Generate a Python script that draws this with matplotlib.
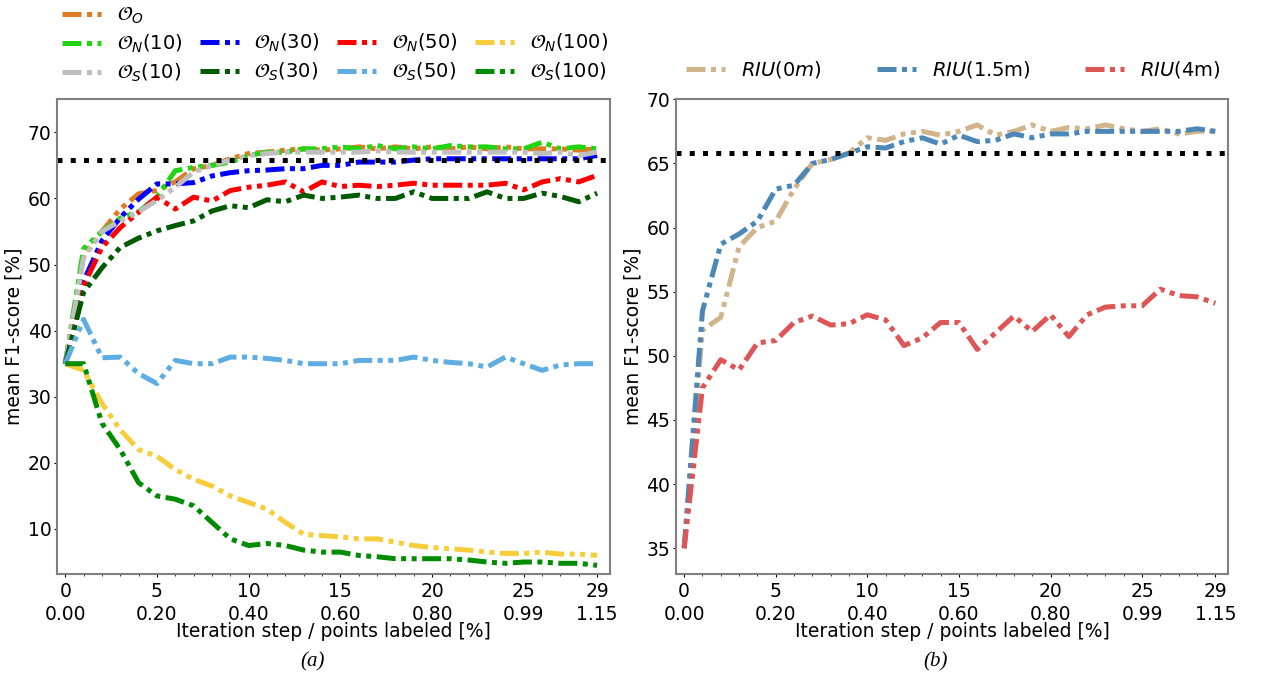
import matplotlib
matplotlib.use("Agg")
import matplotlib.pyplot as plt
from matplotlib.lines import Line2D

steps = list(range(30))
tick_steps = [0, 5, 10, 15, 20, 25, 29]
tick_pct = ["0.00", "0.20", "0.40", "0.60", "0.80", "0.99", "1.15"]
baseline = 65.8

# Panel (a)
o_o = [35, 51.5, 55, 58.4, 60.7, 61.2, 62.5, 64.5, 65, 66, 66.8, 67, 67.3, 67.5, 67.3, 67.5, 67.8, 67.5, 67.8, 67.5,
       67.8, 67.5, 67.8, 67.5, 67.8, 67.5, 67.5, 67.5, 67.3, 67.5]
n10 = [35, 52.4, 55, 57, 58, 60.2, 64.2, 64.7, 65, 65.5, 66.5, 67, 67, 67.5, 67.5, 67.8, 67.5, 68, 67.5, 67.8,
       67.5, 68, 67.8, 67.8, 67.5, 67.5, 68.5, 67.5, 67.8, 67.5]
n30 = [35, 47.5, 53.6, 57.1, 59.9, 62.2, 62.2, 62.4, 63.4, 63.9, 64.2, 64.3, 64.5, 64.5, 65, 65, 65.5, 65.5, 65.5, 65.8,
       66, 66, 66, 66, 66, 66, 66, 66, 66, 66.5]
n50 = [35, 46.8, 52.6, 55.6, 57.9, 60.2, 58.4, 60.2, 59.6, 61.2, 61.7, 62, 62.5, 61, 62.5, 61.8, 62, 61.8, 62, 62.3,
       62, 62, 62, 62, 62.3, 61.3, 62.5, 63, 62.5, 63.5]
n100 = [35, 34, 29, 25, 22, 21, 19, 17.5, 16.5, 15, 14, 13, 11, 9.2, 9, 8.8, 8.5, 8.5, 8, 7.5,
        7.2, 7, 6.8, 6.5, 6.3, 6.3, 6.5, 6.2, 6.2, 6]
s10 = [35, 51, 55, 56.6, 58, 59.7, 61.7, 64, 65, 65.8, 66.5, 66.8, 67, 67, 67, 67, 67, 67.2, 67, 67,
       67, 67, 67, 67, 67, 67, 66.8, 67, 66.5, 67]
s30 = [35, 45.8, 49.5, 52.6, 54, 55.1, 55.9, 56.6, 58.1, 58.9, 58.6, 59.8, 59.5, 60.5, 60, 60.2, 60.5, 60, 60, 61,
       60, 60, 60, 61, 60, 60, 60.8, 60.3, 59.5, 60.8]
s50 = [35, 41.7, 35.9, 36, 33.5, 32, 35.5, 35, 35, 36, 36, 35.8, 35.5, 35, 35, 35, 35.5, 35.5, 35.5, 36,
       35.5, 35.2, 35, 34.5, 36, 35, 34, 34.8, 35, 35]
s100 = [35, 35, 26, 22, 17, 15, 14.5, 13.5, 11, 8.5, 7.5, 7.8, 7.5, 6.8, 6.5, 6.5, 6, 5.8, 5.5, 5.5,
        5.5, 5.5, 5.3, 5, 4.8, 5, 5, 4.8, 4.8, 4.5]

# Panel (b)
riu0 = [35, 52, 53, 58.5, 60, 60.5, 63, 65, 65.3, 65.8, 67, 66.8, 67.3, 67.5, 67.2, 67.5, 68, 67.2, 67.5, 68,
        67.5, 67.8, 67.7, 68, 67.7, 67.5, 67.7, 67.3, 67.5, 67.5]
riu15 = [35, 53.5, 58.7, 59.5, 60.5, 63, 63.3, 65, 65.3, 65.8, 66.3, 66.2, 66.7, 67, 66.5, 67.2, 66.7, 66.8, 67.3, 67,
         67.3, 67.3, 67.5, 67.5, 67.5, 67.5, 67.5, 67.5, 67.7, 67.5]
riu4 = [35, 47.5, 49.7, 48.9, 51, 51.2, 52.6, 53.1, 52.4, 52.5, 53.2, 52.8, 50.8, 51.4, 52.6, 52.6, 50.5, 51.8, 53.1, 51.9,
        53.2, 51.5, 53.2, 53.8, 53.9, 53.9, 55.2, 54.7, 54.6, 54.1]

series_a = [
    (o_o, "#e07b24", r"$\mathcal{O}_O$"),
    (n10, "#22d411", r"$\mathcal{O}_N$(10)"),
    (n30, "#0000ff", r"$\mathcal{O}_N$(30)"),
    (n50, "#ff0000", r"$\mathcal{O}_N$(50)"),
    (n100, "#f7cd3c", r"$\mathcal{O}_N$(100)"),
    (s10, "#bfbfbf", r"$\mathcal{O}_S$(10)"),
    (s30, "#005a00", r"$\mathcal{O}_S$(30)"),
    (s50, "#5dade2", r"$\mathcal{O}_S$(50)"),
    (s100, "#008c00", r"$\mathcal{O}_S$(100)"),
]
series_b = [
    (riu0, "#d2b48c", r"$RIU$(0$m$)"),
    (riu15, "#4b88b8", r"$RIU$(1.5m)"),
    (riu4, "#dd5555", r"$RIU$(4m)"),
]

LS = (0, (3.8, 1.1, 1, 1.1, 1, 1.1))
LW = 3.6
FS = 13.5

fig = plt.figure(figsize=(12.61, 6.8), dpi=100)
ax1 = fig.add_axes([0.0452, 0.156, 0.4385, 0.698])
ax2 = fig.add_axes([0.536, 0.156, 0.438, 0.698])

handles_a = []
for vals, col, lab in series_a:
    h, = ax1.plot(steps, vals, color=col, lw=LW, linestyle=LS, dash_capstyle="butt", label=lab)
    handles_a.append(h)
handles_b = []
for vals, col, lab in series_b:
    h, = ax2.plot(steps, vals, color=col, lw=LW, linestyle=LS, dash_capstyle="butt", label=lab)
    handles_b.append(h)

for ax in (ax1, ax2):
    ax.axhline(baseline, color="black", lw=LW, linestyle=":")
    ax.set_xlim(-0.45, 29.7)
    ax.set_xticks(tick_steps)
    ax.set_xticklabels([f"{s}\n{p}" for s, p in zip(tick_steps, tick_pct)], fontsize=FS, linespacing=1.28)
    ax.set_xticks(steps, minor=True)
    ax.tick_params(axis="y", labelsize=FS, length=2.5, pad=1.5)
    ax.tick_params(axis="x", which="major", length=2.5, pad=3)
    ax.tick_params(which="minor", length=1.5)
    ax.set_xlabel("Iteration step / points labeled [%]", fontsize=FS, labelpad=-1)
    ax.set_ylabel("mean F1-score [%]", fontsize=FS, labelpad=3)
    for sp in ax.spines.values():
        sp.set_color("#808080")
        sp.set_linewidth(1.5)

ax1.set_ylim(3.2, 75)
ax1.set_yticks([10, 20, 30, 40, 50, 60, 70])
ax2.set_ylim(33, 70)
ax2.set_yticks([35, 40, 45, 50, 55, 60, 65, 70])

blank = Line2D([], [], linestyle="none")
order_h = [handles_a[0], handles_a[1], handles_a[5],
           blank, handles_a[2], handles_a[6],
           blank, handles_a[3], handles_a[7],
           blank, handles_a[4], handles_a[8]]
order_l = [series_a[0][2], series_a[1][2], series_a[5][2],
           "", series_a[2][2], series_a[6][2],
           "", series_a[3][2], series_a[7][2],
           "", series_a[4][2], series_a[8][2]]
fig.legend(order_h, order_l, ncol=4, loc="upper left", bbox_to_anchor=(0.0431, 1.003),
           frameon=False, fontsize=14, handlelength=2.0, columnspacing=0.9,
           handletextpad=0.8, labelspacing=0.35, borderaxespad=0.0)
fig.legend(handles_b, [s[2] for s in series_b], ncol=3, loc="upper left", bbox_to_anchor=(0.535, 0.93),
           frameon=False, fontsize=14, handlelength=2.0, columnspacing=2.87,
           handletextpad=0.8, borderaxespad=0.2)

fig.text(0.248, 0.026, "(a)", style="italic", family="Liberation Serif", fontsize=15, ha="center", va="center")
fig.text(0.742, 0.026, "(b)", style="italic", family="Liberation Serif", fontsize=15, ha="center", va="center")

fig.savefig("out.png", dpi=100)
